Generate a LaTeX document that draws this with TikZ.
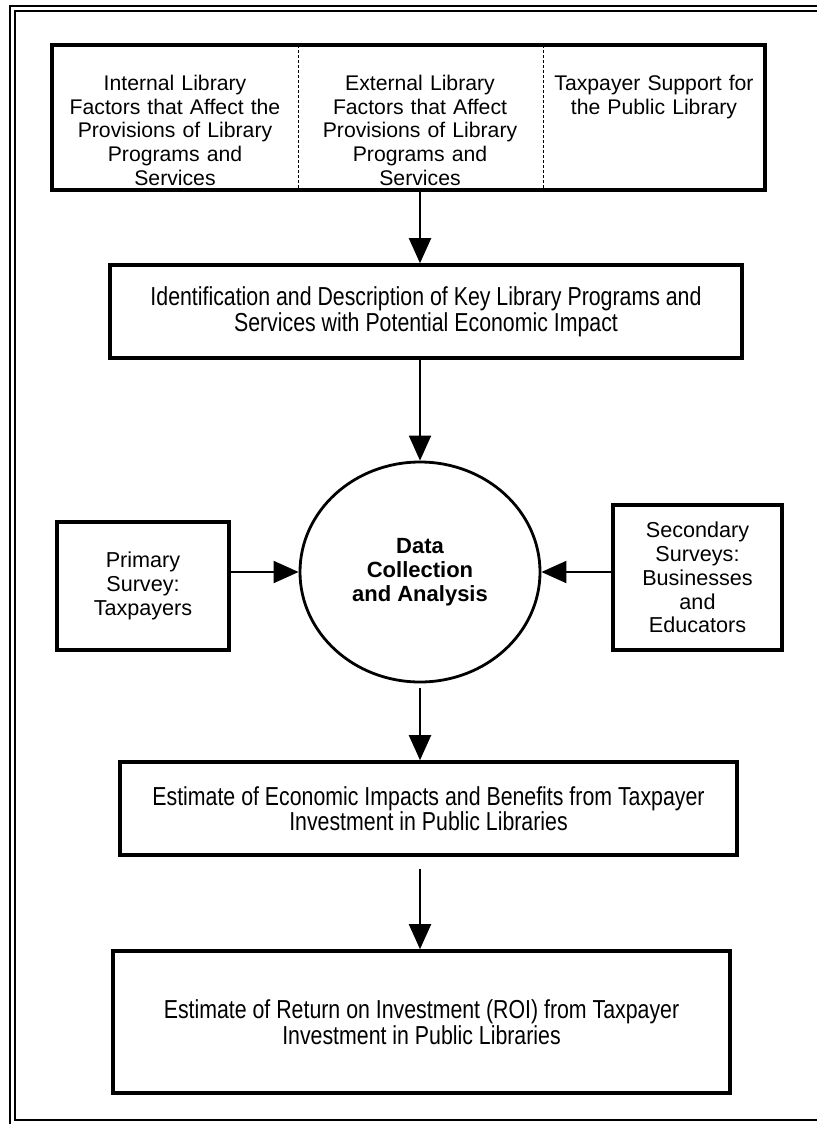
\documentclass[tikz,border=0pt]{standalone}
\usepackage{fontspec}
\setmainfont{Liberation Sans}
\newfontfamily\narrowsf[FakeStretch=0.82]{Liberation Sans}
\usepackage{tikz}
\usetikzlibrary{
  positioning, shapes.geometric, arrows.meta, calc
}
\tikzset{
	framerule/.style={
			draw=black,
			line width=1.1pt
		},
	cellbox/.style={
			rectangle,
			draw=black,
			line width=1.8pt,
			minimum width=356.5pt,
			minimum height=72.5pt,
			inner sep=0pt
		},
	cellnode/.style={
			align=center,
			text width=115pt,
			inner sep=0pt,
			anchor=north,
			font=\fontsize{10.6}{11.8}\selectfont
		},
	celldivider/.style={
			draw=black,
			line width=0.5pt,
			dash pattern=on 1.5pt off 1pt
		},
	flowbox/.style={
			rectangle,
			draw=black,
			line width=1.8pt,
			align=center,
			inner sep=0pt,
			font=\narrowsf\fontsize{13}{12.8}\selectfont
		},
	surveybox/.style={
			flowbox,
			font=\fontsize{10.8}{11.9}\selectfont
		},
	hubnode/.style={
			ellipse,
			draw=black,
			line width=1.4pt,
			minimum width=120pt,
			minimum height=110pt,
			align=center,
			inner sep=0pt,
			font=\bfseries\fontsize{11}{12}\selectfont
		},
	flowarrow/.style={
			draw=black,
			line width=1pt,
			-{Triangle[length=12.5pt, width=11pt]}
		}
}
\begin{document}
\begin{tikzpicture}[x=0.5pt, y=-0.5pt]
	\useasboundingbox (0,0) rectangle (817,1124);
	% double frame, cut at the right and at the foot
	\draw[framerule] (817,6) -- (10,6) -- (10,1124);
	\draw[framerule] (817,11) -- (15,11) -- (15,1120) -- (817,1120);

	% factors
	\node[cellbox] (factors) at (408.5,117.5) {};
	\node[cellnode] (intfac) at (175,75) {Internal Library\\Factors that Affect the\\Provisions of Library\\Programs and\\Services};
	\node[cellnode] (extfac) at (420,75) {External Library\\Factors that Affect\\Provisions of Library\\Programs and\\Services};
	\node[cellnode] (taxsup) at (654,75) {Taxpayer Support for\\the Public Library};
	\draw[celldivider] (298,45) -- (298,190);
	\draw[celldivider] (543,45) -- (543,190);

	% flow
	\node[flowbox, minimum width=316pt, minimum height=46.5pt] (ident) at (426,311.5) {Identification and Description of Key Library Programs and\\Services with Potential Economic Impact};
	\node[hubnode] (datacoll) at (420,572) {Data\\Collection\\and Analysis};
	\node[surveybox, minimum width=86pt, minimum height=64pt] (primsurv) at (143,586) {Primary\\Survey:\\Taxpayers};
	\node[surveybox, minimum width=84.5pt, minimum height=72.5pt] (secsurv) at (697.5,577.5) {Secondary\\Surveys:\\Businesses\\and\\Educators};
	\node[flowbox, minimum width=308.5pt, minimum height=46.5pt] (estimp) at (428.5,808.5) {Estimate of Economic Impacts and Benefits from Taxpayer\\Investment in Public Libraries};
	\node[flowbox, minimum width=308.5pt, minimum height=71pt] (roiest) at (421.5,1022) {Estimate of Return on Investment (ROI) from Taxpayer\\Investment in Public Libraries};

	\draw[flowarrow] (factors.south -| datacoll) -- (ident.north -| datacoll);
	\draw[flowarrow] (ident.south -| datacoll) -- (datacoll.north);
	\draw[flowarrow, shorten <=2.5pt] (datacoll.south) -- (estimp.north -| datacoll);
	\draw[flowarrow, shorten <=6pt] (estimp.south -| datacoll) -- (roiest.north -| datacoll);
	\draw[flowarrow] (primsurv.east |- datacoll.west) -- (datacoll.west);
	\draw[flowarrow] (secsurv.west |- datacoll.east) -- (datacoll.east);
\end{tikzpicture}
\end{document}
